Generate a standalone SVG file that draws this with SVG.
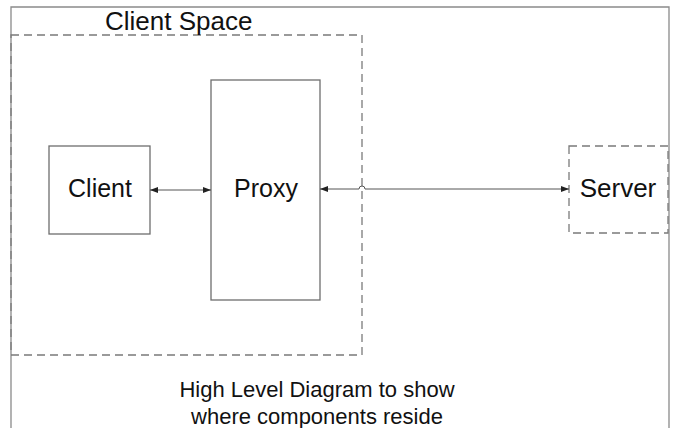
<svg xmlns="http://www.w3.org/2000/svg" width="674" height="428" viewBox="0 0 674 428">
<style>
.frame{fill:none;stroke:#8a8a8a;stroke-width:1.3}
.box{fill:#fff;stroke:#6e6e6e;stroke-width:1.3}
.dash{fill:none;stroke:#7a7a7a;stroke-width:1.3;stroke-dasharray:8,5}
.lbl{font-family:"Liberation Sans",Arial,sans-serif;fill:#111}
.con{fill:none;stroke:#555;stroke-width:1}
</style>
<defs>
<marker id="ah" viewBox="0 0 8 6" refX="8" refY="3" markerWidth="8" markerHeight="6" markerUnits="userSpaceOnUse" orient="auto-start-reverse">
<path d="M0,0 L8,3 L0,6 z" fill="#222"/>
</marker>
</defs>
<rect width="674" height="428" fill="#fff"/>
<g id="frame">
<path class="frame" d="M11,428 V7 H669 V428"/>
</g>
<g id="client-space">
<rect class="dash" x="11" y="35" width="351" height="320"/>
<text class="lbl" x="105" y="30" font-size="26">Client Space</text>
</g>
<g id="client">
<rect class="box" x="49" y="146" width="101" height="88"/>
<text class="lbl" x="100" y="197" font-size="25" text-anchor="middle">Client</text>
</g>
<g id="proxy">
<rect class="box" x="211" y="80" width="109" height="220"/>
<text class="lbl" x="266" y="197" font-size="25" text-anchor="middle">Proxy</text>
</g>
<g id="server">
<rect class="dash" x="569" y="146" width="99" height="87" stroke-dasharray="4,2"/>
<text class="lbl" x="618" y="197" font-size="26" text-anchor="middle">Server</text>
</g>
<g id="connectors">
<path class="con" d="M150,190 H211" marker-start="url(#ah)" marker-end="url(#ah)"/>
<path class="con" d="M320,189 H359 A3,3 0 0 1 365,189 H569" marker-start="url(#ah)" marker-end="url(#ah)"/>
</g>
<g id="caption">
<text class="lbl" x="317" y="397" font-size="22" text-anchor="middle">High Level Diagram to show</text>
<text class="lbl" x="317" y="424" font-size="22" text-anchor="middle">where components reside</text>
</g>
</svg>
